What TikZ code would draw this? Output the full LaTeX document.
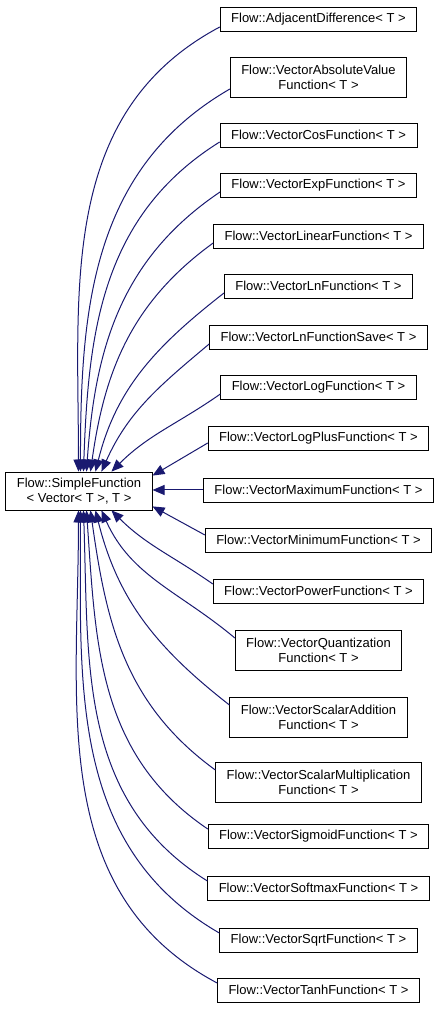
\documentclass[tikz,border=0pt]{standalone}
\usepackage{fontspec}
\setmainfont{Liberation Sans}
\usetikzlibrary{arrows.meta, positioning}

\definecolor{midnightblue}{RGB}{25,25,112}

\begin{document}
\begin{tikzpicture}[
		x=1pt, y=1pt,
		classbox/.style={rectangle, draw=black, thick, inner xsep=11pt, inner ysep=2pt, minimum height=24pt, align=center, font=\fontsize{13}{15}\selectfont},
		twoline/.style={classbox, minimum height=40pt},
		inherit/.style={draw=midnightblue, line width=1pt, -{Triangle[length=12pt, width=10pt]}}
		]
		\useasboundingbox (0,0) rectangle (441,1011);
		% base class
		\node [twoline, minimum height=38pt] (simple) at (79,520) {Flow::SimpleFunction\\< Vector< T >, T >};
		% derived classes
		\node [classbox] (adjdiff) at (318.5,992) {Flow::AdjacentDifference< T >};
		\node [twoline] (absval) at (318.5,934) {Flow::VectorAbsoluteValue\\Function< T >};
		\node [classbox] (cosf) at (318.5,876) {Flow::VectorCosFunction< T >};
		\node [classbox] (expf) at (318.5,826) {Flow::VectorExpFunction< T >};
		\node [classbox] (linearf) at (318.5,775) {Flow::VectorLinearFunction< T >};
		\node [classbox] (lnf) at (318.5,725) {Flow::VectorLnFunction< T >};
		\node [classbox] (lnsave) at (318.5,674) {Flow::VectorLnFunctionSave< T >};
		\node [classbox] (logf) at (318.5,624) {Flow::VectorLogFunction< T >};
		\node [classbox] (logplus) at (318.5,573) {Flow::VectorLogPlusFunction< T >};
		\node [classbox] (maxf) at (318.5,521) {Flow::VectorMaximumFunction< T >};
		\node [classbox] (minf) at (318.5,471) {Flow::VectorMinimumFunction< T >};
		\node [classbox] (powerf) at (318.5,420) {Flow::VectorPowerFunction< T >};
		\node [twoline] (quantf) at (318.5,361) {Flow::VectorQuantization\\Function< T >};
		\node [twoline] (scaladd) at (318.5,294) {Flow::VectorScalarAddition\\Function< T >};
		\node [twoline] (scalmult) at (318.5,229) {Flow::VectorScalarMultiplication\\Function< T >};
		\node [classbox] (sigmoidf) at (318.5,175) {Flow::VectorSigmoidFunction< T >};
		\node [classbox] (softmaxf) at (318.5,123) {Flow::VectorSoftmaxFunction< T >};
		\node [classbox] (sqrtf) at (318.5,71) {Flow::VectorSqrtFunction< T >};
		\node [classbox] (tanhf) at (318.5,21) {Flow::VectorTanhFunction< T >};
		
		% inheritance arrows, upper half
		\draw [inherit] ([yshift=-8pt]adjdiff.west) to [out=208, in=90] ([xshift=73pt]simple.north west);
		\draw [inherit] ([yshift=-12pt]absval.west) to [out=210, in=90] ([xshift=75pt]simple.north west);
		\draw [inherit] ([yshift=-7pt]cosf.west) to [out=212, in=88] ([xshift=78pt]simple.north west);
		\draw [inherit] ([yshift=-7pt]expf.west) to [out=214, in=86] ([xshift=81pt]simple.north west);
		\draw [inherit] ([yshift=-7pt]linearf.west) to [out=216, in=82] ([xshift=85pt]simple.north west);
		\draw [inherit] ([yshift=-7pt]lnf.west) to [out=218, in=76] ([xshift=90pt]simple.north west);
		\draw [inherit] ([yshift=-7pt]lnsave.west) to [out=220, in=66] ([xshift=96pt]simple.north west);
		\draw [inherit] ([yshift=-7pt]logf.west) to [out=215, in=45] ([xshift=106pt]simple.north west);
		\draw [inherit] ([yshift=-5pt]logplus.west) -- ([yshift=-4pt]simple.north east);
		\draw [inherit] (maxf.west) -- (maxf.west -| simple.east);
		\draw [inherit] ([yshift=5pt]minf.west) -- ([yshift=4pt]simple.south east);
		% inheritance arrows, lower half
		\draw [inherit] ([yshift=7pt]powerf.west) to [out=145, in=-45] ([xshift=106pt]simple.south west);
		\draw [inherit] ([yshift=12pt]quantf.west) to [out=140, in=-66] ([xshift=96pt]simple.south west);
		\draw [inherit] ([yshift=12pt]scaladd.west) to [out=142, in=-76] ([xshift=90pt]simple.south west);
		\draw [inherit] ([yshift=12pt]scalmult.west) to [out=144, in=-82] ([xshift=85pt]simple.south west);
		\draw [inherit] ([yshift=7pt]sigmoidf.west) to [out=146, in=-86] ([xshift=81pt]simple.south west);
		\draw [inherit] ([yshift=7pt]softmaxf.west) to [out=148, in=-88] ([xshift=78pt]simple.south west);
		\draw [inherit] ([yshift=7pt]sqrtf.west) to [out=150, in=-90] ([xshift=75pt]simple.south west);
		\draw [inherit] ([yshift=7pt]tanhf.west) to [out=152, in=-90] ([xshift=73pt]simple.south west);
	\end{tikzpicture}
\end{document}
